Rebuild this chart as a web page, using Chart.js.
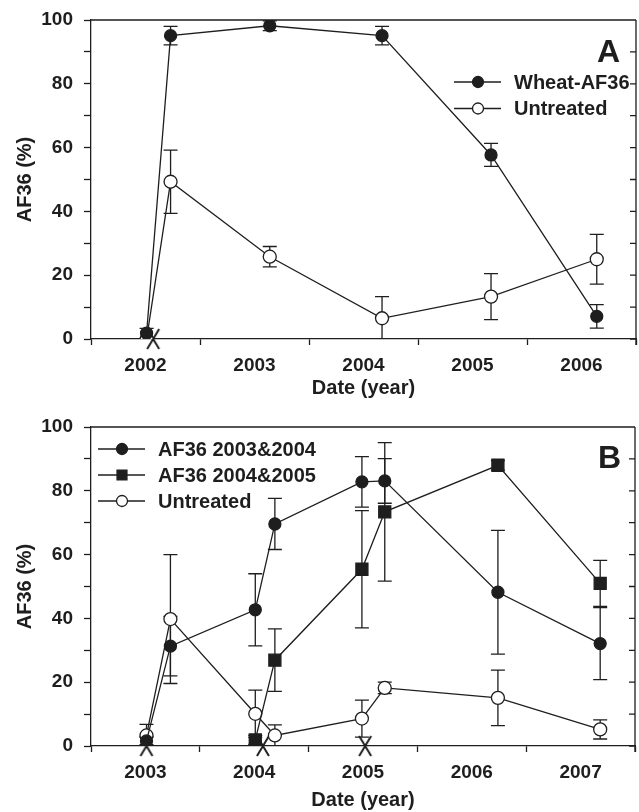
<!DOCTYPE html>
<html>
<head>
<meta charset="utf-8">
<script src="https://cdn.jsdelivr.net/npm/chart.js@4.4.1/dist/chart.umd.min.js"></script>
<style>
  html, body { margin: 0; padding: 0; background: #fff; }
  #wrap { position: relative; width: 639px; height: 812px; }
  .panel { position: absolute; left: 0; }
  #pa { top: 0; }
  #pb { top: 405px; }
</style>
</head>
<body>
<div id="wrap">
  <div class="panel" id="pa"><canvas id="chartA" width="639" height="405"></canvas></div>
  <div class="panel" id="pb"><canvas id="chartB" width="639" height="407"></canvas></div>
</div>
<script>
// panel A: sampling dates (decimal year) and AF36 %
var datesA = [2002.51, 2002.73, 2003.64, 2004.67, 2005.67, 2006.64];
var wheatA = [1.8, 95.1, 98.2, 95.1, 57.7, 7.1];
var wheatAErr = [1.5, 2.9, 1.5, 2.9, 3.6, 3.7];
var untreatedA = [0, 49.3, 25.8, 6.5, 13.3, 25.0];
var untreatedAErr = [0, 9.9, 3.2, 6.8, 7.2, 7.8];
var crossDatesA = [2002.57];

// panel B
var datesB = [2003.51, 2003.73, 2004.51, 2004.69, 2005.49, 2005.70, 2006.74, 2007.68];
var af0304 = [1.6, 31.3, 42.7, 69.6, 82.8, 83.1, 48.2, 32.1];
var af0304Err = [1.2, 9.3, 11.3, 8.0, 7.9, 7.0, 19.4, 11.3];
var af0405 = [null, null, 1.9, 26.9, 55.4, 73.4, 88.0, 51.0];
var af0405Err = [0, 0, 1.4, 9.8, 18.4, 21.7, 1.5, 7.2];
var untreatedB = [3.3, 39.8, 10.1, 3.3, 8.6, 18.2, 15.1, 5.2];
var untreatedBErr = [3.5, 20.2, 7.4, 3.3, 5.8, 1.8, 8.7, 3.0];
var crossDatesB = [2003.51, 2004.58, 2005.52];

var yearTicksA = [2002, 2007];
var yearTicksB = [2003, 2008];

var ink = '#1e1e1e';
var fontFam = "'Liberation Sans', Arial, sans-serif";

// tall X used to mark zero detections
var xMark = document.createElement('canvas');
xMark.width = 16; xMark.height = 22;
(function () {
    var c = xMark.getContext('2d');
    c.strokeStyle = ink; c.lineWidth = 2;
    c.beginPath();
    c.moveTo(2, 1); c.lineTo(14, 21);
    c.moveTo(14, 1); c.lineTo(2, 21);
    c.stroke();
})();

function pts(xs, ys) {
    return xs.map(function (x, i) { return { x: x, y: ys[i] }; });
}

var errorBars = {
    id: 'errorBars',
    beforeDatasetsDraw: function (chart) {
        var ctx = chart.ctx, a = chart.chartArea;
        var xs = chart.scales.x, ys = chart.scales.y;
        ctx.save();
        ctx.beginPath();
        ctx.rect(a.left, a.top - 2, a.right - a.left, a.bottom - a.top + 2);
        ctx.clip();
        ctx.strokeStyle = ink;
        ctx.lineWidth = 1.3;
        chart.data.datasets.forEach(function (ds) {
            if (!ds.errors) return;
            ds.data.forEach(function (p, j) {
                var e = ds.errors[j];
                if (p.y == null || !e) return;
                var px = xs.getPixelForValue(p.x);
                var t = ys.getPixelForValue(p.y + e);
                var b = ys.getPixelForValue(p.y - e);
                ctx.beginPath();
                ctx.moveTo(px, t); ctx.lineTo(px, b);
                ctx.moveTo(px - 7, t); ctx.lineTo(px + 7, t);
                ctx.moveTo(px - 7, b); ctx.lineTo(px + 7, b);
                ctx.stroke();
            });
        });
        ctx.restore();
    }
};

var frameAndLegend = {
    id: 'frameAndLegend',
    afterDraw: function (chart) {
        var ctx = chart.ctx, a = chart.chartArea, ys = chart.scales.y;
        var o = chart.options.plugins.frameAndLegend;
        ctx.save();
        ctx.strokeStyle = ink;
        ctx.lineWidth = 1.3;
        ctx.beginPath();
        ctx.moveTo(a.left, a.top); ctx.lineTo(a.right, a.top);
        ctx.moveTo(a.right, a.top); ctx.lineTo(a.right, a.bottom + 6);
        ys.ticks.forEach(function (t) {
            var py = ys.getPixelForValue(t.value);
            ctx.moveTo(a.right, py); ctx.lineTo(a.right - 6, py);
        });
        ctx.stroke();

        // legend
        var row = 0;
        ctx.font = 'bold 20px ' + fontFam;
        ctx.textBaseline = 'middle';
        ctx.textAlign = 'left';
        chart.data.datasets.forEach(function (ds) {
            if (!ds.label) return;
            var cy = o.y + row * o.rowH;
            ctx.strokeStyle = ink;
            ctx.lineWidth = 1.3;
            ctx.beginPath();
            ctx.moveTo(o.x, cy); ctx.lineTo(o.x + 47, cy);
            ctx.stroke();
            ctx.fillStyle = ds.pointBackgroundColor;
            ctx.strokeStyle = ink;
            Chart.helpers.drawPoint(ctx, {
                pointStyle: ds.pointStyle,
                radius: ds.pointStyle === 'rect' ? 7 : 5.5,
                borderWidth: 1.3,
                rotation: 0
            }, o.x + 24, cy);
            ctx.fillStyle = ink;
            ctx.fillText(ds.label, o.x + 60, cy + 1);
            row++;
        });

        // panel letter
        ctx.font = 'bold 32px ' + fontFam;
        ctx.textAlign = 'right';
        ctx.textBaseline = 'alphabetic';
        ctx.fillStyle = ink;
        ctx.fillText(o.letter, o.letterX, o.letterY);
        ctx.restore();
    }
};

function lineSet(label, xs, ys, errs, style, fill, radius) {
    return {
        label: label,
        data: pts(xs, ys),
        errors: errs,
        borderColor: ink,
        borderWidth: 1.3,
        pointStyle: style,
        pointRadius: radius,
        pointBackgroundColor: fill,
        pointBorderColor: ink,
        pointBorderWidth: 1.3,
        showLine: true,
        spanGaps: false,
        tension: 0
    };
}

function crossSet(xs) {
    return {
        label: '',
        data: xs.map(function (x) { return { x: x, y: 0 }; }),
        pointStyle: xMark,
        pointRadius: 10,
        showLine: false,
        clip: false
    };
}

function noPad(scale) {
    scale.paddingLeft = 0; scale.paddingRight = 0;
    scale.paddingTop = 0; scale.paddingBottom = 0;
}

function makeOptions(range, pad, axisH, titlePad, legend) {
    return {
        responsive: false,
        animation: false,
        layout: { padding: pad, autoPadding: false },
        plugins: {
            legend: { display: false },
            tooltip: { enabled: false },
            frameAndLegend: legend
        },
        scales: {
            x: {
                type: 'linear',
                min: range[0],
                max: range[1],
                afterBuildTicks: function (scale) {
                    var t = [];
                    for (var v = range[0]; v <= range[1] + 1e-9; v += 0.5) t.push({ value: v });
                    scale.ticks = t;
                },
                afterFit: function (scale) { scale.height = axisH; noPad(scale); },
                ticks: {
                    autoSkip: false,
                    maxRotation: 0,
                    padding: 9,
                    color: ink,
                    font: { family: fontFam, size: 19, weight: 'bold' },
                    callback: function (v) { return (v % 1 === 0.5) ? String(Math.floor(v)) : ''; }
                },
                grid: {
                    drawOnChartArea: false,
                    tickLength: 6,
                    tickWidth: 1.3,
                    tickColor: function (c) {
                        return (c.tick && c.tick.value % 1 === 0) ? ink : 'rgba(0,0,0,0)';
                    }
                },
                border: { display: true, color: ink, width: 1.3 },
                title: {
                    display: true,
                    text: 'Date (year)',
                    color: ink,
                    font: { family: fontFam, size: 20, weight: 'bold', lineHeight: 1.2 },
                    padding: { top: 0, bottom: titlePad }
                }
            },
            y: {
                min: 0,
                max: 100,
                afterFit: function (scale) { scale.width = 91; noPad(scale); },
                ticks: {
                    stepSize: 10,
                    autoSkip: false,
                    padding: 11,
                    color: ink,
                    font: { family: fontFam, size: 19, weight: 'bold' },
                    callback: function (v) { return (v % 20 === 0) ? String(v) : ''; }
                },
                grid: { drawOnChartArea: false, tickLength: 7, tickWidth: 1.3, tickColor: ink },
                border: { display: true, color: ink, width: 1.3 },
                title: {
                    display: true,
                    text: 'AF36 (%)',
                    color: ink,
                    font: { family: fontFam, size: 20, weight: 'bold', lineHeight: 1.2 },
                    padding: { top: 13, bottom: 0 }
                }
            }
        }
    };
}

new Chart(document.getElementById('chartA'), {
    type: 'scatter',
    data: {
        datasets: [
            lineSet('Wheat-AF36', datesA, wheatA, wheatAErr, 'circle', ink, 6),
            lineSet('Untreated', datesA, untreatedA, untreatedAErr, 'circle', '#ffffff', 6.5),
            crossSet(crossDatesA)
        ]
    },
    options: makeOptions(yearTicksA, { left: 0, right: 3, top: 20, bottom: 4 }, 62, 1,
        { x: 454, y: 82, rowH: 26.5, letter: 'A', letterX: 620, letterY: 62 }),
    plugins: [errorBars, frameAndLegend]
});

new Chart(document.getElementById('chartB'), {
    type: 'scatter',
    data: {
        datasets: [
            lineSet('AF36 2003&2004', datesB, af0304, af0304Err, 'circle', ink, 6),
            lineSet('AF36 2004&2005', datesB, af0405, af0405Err, 'rect', ink, 8.5),
            lineSet('Untreated', datesB, untreatedB, untreatedBErr, 'circle', '#ffffff', 6.5),
            crossSet(crossDatesB)
        ]
    },
    options: makeOptions(yearTicksB, { left: 0, right: 4, top: 22, bottom: 0 }, 66, 0,
        { x: 98, y: 44, rowH: 26, letter: 'B', letterX: 621, letterY: 63 }),
    plugins: [errorBars, frameAndLegend]
});
</script>
</body>
</html>
